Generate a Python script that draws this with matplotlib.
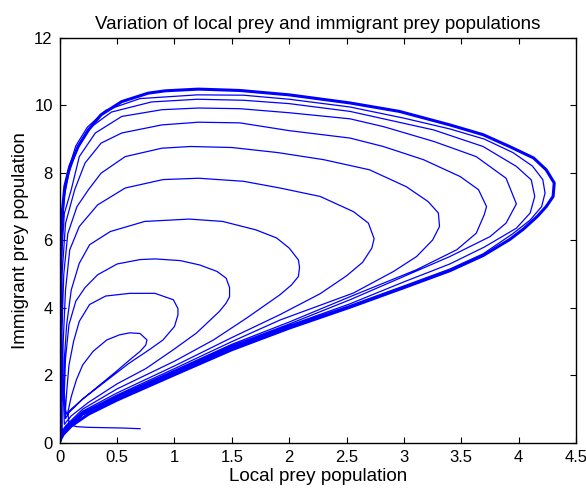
import numpy as np
import matplotlib
matplotlib.use("Agg")
import matplotlib.pyplot as plt

plt.rcParams['font.family'] = ['Liberation Sans', 'DejaVu Sans']

# trajectory, one turn at a time (clockwise)
tail_x = [0.70, 0.55, 0.40, 0.25, 0.15, 0.10, 0.08, 0.07]
tail_y = [0.42, 0.44, 0.45, 0.46, 0.48, 0.52, 0.60, 0.90]

loop1_x = [0.10, 0.145, 0.20, 0.29, 0.41, 0.52, 0.61, 0.70, 0.76, 0.75, 0.70, 0.61, 0.49, 0.35, 0.20, 0.10, 0.06]
loop1_y = [1.37, 1.87, 2.31, 2.71, 3.05, 3.20, 3.26, 3.24, 3.05, 2.90, 2.71, 2.46, 2.11, 1.72, 1.30, 1.00, 0.85]

loop2_x = [0.05, 0.06, 0.08, 0.12, 0.17, 0.26, 0.40, 0.61, 0.83, 0.99, 1.03, 1.03, 1.00, 0.90, 0.78, 0.60, 0.41, 0.20, 0.08, 0.05]
loop2_y = [1.00, 1.50, 2.30, 3.00, 3.60, 4.10, 4.35, 4.43, 4.43, 4.24, 3.98, 3.79, 3.45, 3.05, 2.76, 2.35, 1.85, 1.30, 0.90, 0.72]

loop3_x = [0.04, 0.05, 0.08, 0.14, 0.22, 0.33, 0.50, 0.70, 0.83, 1.05, 1.22, 1.37, 1.45, 1.48, 1.48, 1.45, 1.39, 1.19, 0.99, 0.75, 0.50, 0.25, 0.10, 0.04]
loop3_y = [1.50, 2.50, 3.50, 4.20, 4.60, 4.98, 5.30, 5.43, 5.45, 5.40, 5.27, 5.08, 4.88, 4.60, 4.33, 4.14, 3.89, 3.25, 2.76, 2.20, 1.75, 1.20, 0.80, 0.55]

loop4_x = [0.03, 0.04, 0.06, 0.10, 0.17, 0.26, 0.44, 0.74, 1.13, 1.42, 1.71, 1.89, 2.00, 2.08, 2.09, 2.08, 2.02, 1.92, 1.63, 1.34, 1.00, 0.50, 0.20, 0.05, 0.02]
loop4_y = [1.50, 2.50, 3.50, 4.53, 5.32, 5.87, 6.26, 6.56, 6.63, 6.56, 6.31, 6.07, 5.77, 5.42, 5.20, 4.93, 4.68, 4.39, 3.70, 3.05, 2.42, 1.60, 1.00, 0.50, 0.35]

loop5_x = [0.02, 0.03, 0.05, 0.087, 0.17, 0.33, 0.57, 0.90, 1.21, 1.60, 1.92, 2.27, 2.56, 2.69, 2.74, 2.72, 2.64, 2.50, 2.27, 1.92, 1.50, 1.00, 0.50, 0.20, 0.05, 0.015]
loop5_y = [1.50, 3.00, 4.53, 5.72, 6.41, 7.05, 7.55, 7.80, 7.84, 7.75, 7.55, 7.30, 6.85, 6.51, 6.05, 5.77, 5.35, 4.95, 4.42, 3.80, 3.12, 2.28, 1.48, 0.94, 0.45, 0.25]

loop6_x = [0.015, 0.02, 0.035, 0.07, 0.15, 0.25, 0.36, 0.57, 0.89, 1.14, 1.50, 1.90, 2.30, 2.70, 3.02, 3.21, 3.30, 3.31, 3.25, 3.11, 2.91, 2.56, 1.92, 1.50, 1.00, 0.50, 0.20, 0.05, 0.012]
loop6_y = [2.00, 3.50, 5.00, 6.20, 7.00, 7.50, 7.99, 8.48, 8.73, 8.78, 8.75, 8.60, 8.39, 8.09, 7.59, 7.15, 6.81, 6.41, 6.01, 5.52, 5.08, 4.44, 3.64, 3.00, 2.20, 1.42, 0.90, 0.42, 0.20]

loop7_x = [0.012, 0.02, 0.05, 0.13, 0.22, 0.36, 0.54, 0.89, 1.21, 1.57, 2.00, 2.53, 2.82, 3.17, 3.49, 3.65, 3.72, 3.70, 3.63, 3.46, 3.11, 2.53, 2.00, 1.50, 1.00, 0.50, 0.20, 0.05, 0.01]
loop7_y = [2.50, 5.00, 6.50, 7.50, 8.29, 8.88, 9.18, 9.42, 9.50, 9.48, 9.25, 9.03, 8.78, 8.39, 7.89, 7.50, 7.00, 6.76, 6.21, 5.72, 5.13, 4.33, 3.58, 2.92, 2.15, 1.38, 0.88, 0.40, 0.15]

loop8_x = [0.01, 0.015, 0.04, 0.10, 0.17, 0.31, 0.54, 0.89, 1.21, 1.57, 2.00, 2.53, 2.82, 3.26, 3.63, 3.89, 3.98, 3.89, 3.75, 3.40, 2.53, 2.00, 1.50, 1.00, 0.50, 0.20, 0.05, 0.008]
loop8_y = [3.00, 5.50, 6.80, 7.50, 8.48, 9.18, 9.67, 9.87, 9.92, 9.90, 9.78, 9.60, 9.37, 8.93, 8.48, 7.84, 7.08, 6.51, 6.11, 5.52, 4.24, 3.52, 2.88, 2.12, 1.35, 0.86, 0.38, 0.12]

loop9_x = [0.008, 0.012, 0.04, 0.08, 0.15, 0.25, 0.45, 0.80, 1.20, 1.60, 2.00, 2.53, 3.26, 3.69, 3.98, 4.11, 4.14, 4.10, 3.98, 3.70, 3.40, 3.00, 2.53, 2.00, 1.50, 1.00, 0.50, 0.20, 0.05, 0.005]
loop9_y = [3.00, 6.00, 7.30, 8.00, 8.70, 9.30, 9.80, 10.10, 10.18, 10.15, 10.05, 9.82, 9.27, 8.78, 8.19, 7.79, 7.30, 6.81, 6.36, 5.80, 5.30, 4.77, 4.12, 3.48, 2.84, 2.09, 1.33, 0.84, 0.37, 0.10]

loop10_x = [0.005, 0.01, 0.035, 0.075, 0.14, 0.24, 0.40, 0.70, 1.20, 1.60, 2.00, 2.53, 3.00, 3.40, 3.70, 3.95, 4.12, 4.21, 4.23, 4.20, 4.10, 3.95, 3.69, 3.40, 3.00, 2.53, 2.00, 1.50, 1.00, 0.50, 0.20, 0.05, 0.003]
loop10_y = [3.00, 6.00, 7.40, 8.10, 8.80, 9.35, 9.85, 10.20, 10.31, 10.30, 10.18, 9.95, 9.62, 9.30, 9.00, 8.60, 8.20, 7.80, 7.40, 7.00, 6.60, 6.20, 5.60, 5.15, 4.65, 4.07, 3.45, 2.80, 2.06, 1.30, 0.83, 0.36, 0.08]

# limit cycle the spiral settles on (several nearly identical turns)
cycle_x = [0.003, 0.005, 0.008, 0.015, 0.044, 0.087, 0.16, 0.25, 0.36, 0.54, 0.77, 0.92, 1.21, 1.57, 2.00, 2.53, 2.96, 3.40, 3.69, 3.92, 4.13, 4.24, 4.31, 4.30, 4.24, 4.16, 4.04, 3.92, 3.69, 3.40, 3.00, 2.53, 2.00, 1.50, 1.00, 0.50, 0.25, 0.10, 0.03, 0.003]
cycle_y = [0.08, 2.00, 5.00, 6.60, 7.60, 8.19, 8.78, 9.27, 9.72, 10.11, 10.36, 10.43, 10.48, 10.44, 10.31, 10.07, 9.82, 9.42, 9.13, 8.78, 8.44, 8.09, 7.70, 7.30, 7.00, 6.70, 6.33, 6.02, 5.55, 5.10, 4.60, 4.02, 3.40, 2.76, 2.02, 1.27, 0.85, 0.50, 0.25, 0.08]

loops_x = [tail_x, loop1_x, loop2_x, loop3_x, loop4_x, loop5_x, loop6_x,
           loop7_x, loop8_x, loop9_x, loop10_x, cycle_x]
loops_y = [tail_y, loop1_y, loop2_y, loop3_y, loop4_y, loop5_y, loop6_y,
           loop7_y, loop8_y, loop9_y, loop10_y, cycle_y]

xs = np.concatenate(loops_x)
ys = np.concatenate(loops_y)

fig = plt.figure(figsize=(5.86, 4.91), dpi=100)
ax = fig.add_axes([0.102, 0.098, 0.881, 0.825])
ax.plot(xs, ys, color="blue", lw=0.9)
ax.plot(cycle_x, cycle_y, color="blue", lw=2.2, solid_joinstyle="round")

ax.set_xlim(0, 4.5)
ax.set_ylim(0, 12)
ax.set_xticks(np.arange(0, 4.51, 0.5))
ax.set_xticklabels(["0", "0.5", "1", "1.5", "2", "2.5", "3", "3.5", "4", "4.5"])
ax.set_yticks(np.arange(0, 13, 2))
ax.tick_params(direction="in", top=True, right=True, length=4, width=0.8,
               labelsize=12, pad=5)
for s in ax.spines.values():
    s.set_linewidth(1.0)
ax.set_xlabel("Local prey population", fontsize=13.6, labelpad=2)
ax.set_ylabel("Immigrant prey population", fontsize=13.6, labelpad=4)
ax.set_title("Variation of local prey and immigrant prey populations",
             fontsize=13.5, pad=6)

fig.savefig("out.png", dpi=100)
